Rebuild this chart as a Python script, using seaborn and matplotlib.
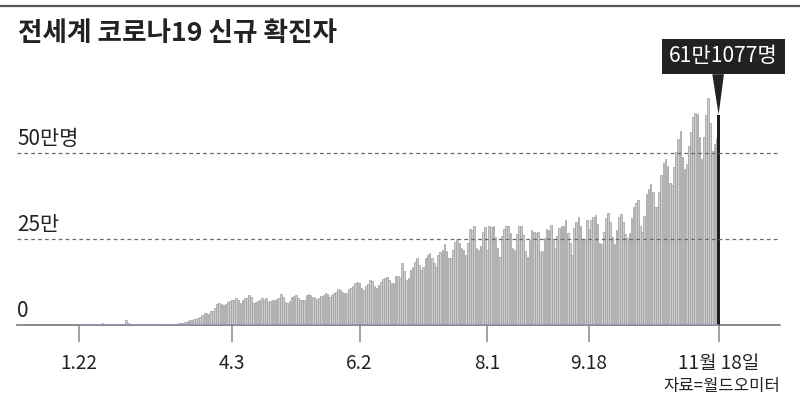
import numpy as np
import pandas as pd
import matplotlib
matplotlib.use("Agg")
import matplotlib.pyplot as plt
from matplotlib.lines import Line2D
import seaborn as sns

# ---------------- data (daily new cases, persons) ----------------
jan = [100, 150, 290, 490, 680, 810, 2650, 590, 2070, 1690]
feb = [2110, 4750, 3090, 4010, 3740, 3160, 3930, 3420, 2650, 3000, 2570, 2050,
       15150, 5160, 2660, 2100, 2030, 1890, 1130, 600, 1040, 1010, 650, 560,
       950, 970, 1280, 1520, 1910]
mar = [1800, 1900, 2500, 2300, 2800, 3900, 4000, 4000, 4500, 5000, 7000, 9000,
       12000, 14000, 15000, 17000, 18000, 19000, 22000, 30000, 35000, 36000,
       32000, 40000, 42000, 50000, 60000, 63000, 60000, 58000, 62000]
apr = [66000, 70000, 73000, 74000, 78000, 74000, 65000, 74000, 78000, 78000,
       87000, 82000, 65000, 68000, 71000, 74000, 78000, 74000, 78000, 68000,
       71000, 73000, 74000, 76000, 78000, 89000, 82000, 68000, 65000, 71000]
may = [82000, 85000, 87000, 78000, 74000, 74000, 74000, 87000, 90000, 87000,
       82000, 78000, 73000, 78000, 84000, 87000, 94000, 89000, 80000, 87000,
       94000, 97000, 104000, 102000, 97000, 92000, 92000, 104000, 108000,
       113000, 121000]
jun = [126000, 123000, 107000, 102000, 114000, 120000, 131000, 129000, 112000,
       107000, 117000, 125000, 133000, 136000, 139000, 131000, 122000, 122000,
       141000, 143000, 136000, 180000, 156000, 132000, 136000, 160000, 170000,
       182000, 195000, 175000]
jul = [160000, 170000, 195000, 204000, 209000, 195000, 180000, 170000, 204000,
       211000, 219000, 235000, 214000, 195000, 195000, 219000, 240000, 250000,
       238000, 224000, 219000, 204000, 238000, 279000, 277000, 289000, 224000,
       219000, 230000, 270000, 285000]
aug = [218000, 288000, 284000, 288000, 257000, 223000, 199000, 260000, 280000,
       289000, 287000, 268000, 223000, 219000, 265000, 288000, 288000, 262000,
       214000, 199000, 248000, 275000, 270000, 267000, 270000, 211000, 214000,
       253000, 279000, 275000, 291000]
sep = [250000, 224000, 260000, 282000, 287000, 289000, 304000, 268000, 238000,
       204000, 282000, 299000, 314000, 287000, 250000, 250000, 306000, 278000,
       305000, 315000, 320000, 295000, 237000, 235000, 271000, 312000, 325000,
       298000, 256000, 235000]
oct_ = [276000, 313000, 323000, 298000, 265000, 252000, 268000, 310000, 344000,
        354000, 363000, 288000, 271000, 317000, 381000, 394000, 410000, 388000,
        344000, 342000, 388000, 436000, 472000, 484000, 462000, 412000, 407000,
        460000, 504000, 540000, 565000]
nov = [489000, 453000, 468000, 520000, 562000, 606000, 615000, 613000, 547000,
       483000, 547000, 610000, 659000, 588000, 507000, 525000, 543000, 611077]

start_date = "2020-01-22"
end_date = "2020-11-18"
tick_dates = ["2020-01-22", "2020-04-03", "2020-06-02", "2020-08-01",
              "2020-09-18", "2020-11-18"]
tick_labels = ["1.22", "4.3", "6.2", "8.1", "9.18", "11월 18일"]
ytick_vals = [0, 250000, 500000]
ytick_labels = ["0", "25만", "50만명"]
title = "전세계 코로나19 신규 확진자"
source = "자료=월드오미터"
callout = "61만1077명"

cases = jan + feb + mar + apr + may + jun + jul + aug + sep + oct_ + nov
dates = pd.date_range(start_date, end_date, freq="D")
df = pd.DataFrame({"date": dates, "cases": cases})
df["day"] = (df["date"] - df["date"].iloc[0]).dt.days

# ---------------- style ----------------
sns.set_theme(style="white")
plt.rcParams["font.family"] = ["Noto Sans CJK KR", "DejaVu Sans"]

W, H = 800, 396
fig = plt.figure(figsize=(W / 100, H / 100), dpi=100)
base_px = 325
px_per_250k = 86
top_px = 40
ax = fig.add_axes([17 / W, (H - base_px) / H, 763 / W, (base_px - top_px) / H])

sns.barplot(data=df.iloc[:-1], x="day", y="cases", native_scale=True,
            color="#cdcdcd", edgecolor="#9c9c9c", linewidth=0.5, width=0.8,
            saturation=1, errorbar=None, ax=ax, zorder=2)
sns.barplot(data=df.iloc[-1:], x="day", y="cases", native_scale=True,
            color="#1e1e1e", edgecolor="none", width=1.5,
            saturation=1, errorbar=None, ax=ax, zorder=3)

ax.hlines(0, df["day"].iloc[0], df["day"].iloc[-1], color="#8797b8", lw=1.2, zorder=5)

for v in ytick_vals[1:]:
    ax.axhline(v, color="#6a6a6a", lw=0.9, ls=(0, (3, 2.5)), zorder=4)
for v, lab in zip(ytick_vals, ytick_labels):
    ax.annotate(lab, xy=(0, v), xycoords=("axes fraction", "data"),
                xytext=(0, 2.5), textcoords="offset points", ha="left",
                va="bottom", fontsize=15, color="#222222")

px_per_day = 2.125
ax.set_xlim((17 - 79) / px_per_day, (780 - 79) / px_per_day)
ax.set_ylim(0, (base_px - top_px) / px_per_250k * 250000)

tick_pos = [(pd.Timestamp(d) - dates[0]).days for d in tick_dates]
ax.set_xticks(tick_pos)
ax.set_xticklabels(tick_labels, fontsize=13.7, color="#222222")
ax.set_yticks([])
ax.set_xlabel("")
ax.set_ylabel("")
ax.tick_params(axis="x", bottom=True, length=12, width=1.3, color="#9a9a9a", pad=8)
for s in ["top", "left", "right"]:
    ax.spines[s].set_visible(False)
ax.spines["bottom"].set_color("#777777")
ax.spines["bottom"].set_linewidth(1.2)
ax.spines["bottom"].set_zorder(1)

last = df.iloc[-1]
ax.annotate(callout, xy=(last["day"], last["cases"]), xytext=(3.5, 42),
            textcoords="offset points", ha="center", va="center",
            fontsize=15.2, color="white",
            bbox=dict(boxstyle="square,pad=0.32", fc="#222222", ec="none"),
            arrowprops=dict(arrowstyle="wedge,tail_width=0.55,shrink_factor=0.5",
                            fc="#222222", ec="none", shrinkA=0, shrinkB=0,
                            relpos=(0.45, 0)),
            annotation_clip=False, zorder=6)

fig.add_artist(Line2D([0, 1], [1 - 5.5 / H] * 2, color="#555555", lw=1.6))
fig.text(18 / W, 1 - 41 / H, title, fontsize=19.2, fontweight="bold",
         color="#222222", ha="left", va="baseline")
fig.text(780 / W, 1 - 391 / H, source, fontsize=12, color="#222222",
         ha="right", va="baseline")

fig.savefig("out.png", dpi=100)
